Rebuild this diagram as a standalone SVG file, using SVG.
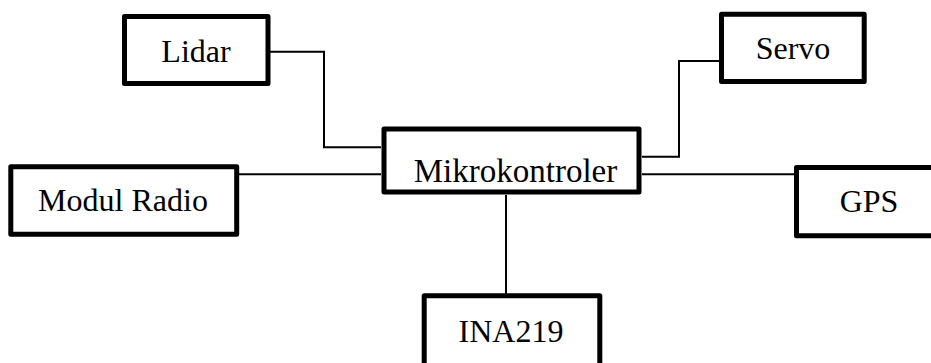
<svg xmlns="http://www.w3.org/2000/svg" width="931" height="363" viewBox="0 0 931 363">
<style>
.box{fill:#fff;stroke:#000;stroke-width:5;stroke-linejoin:round}
.lbl{font-family:'Liberation Serif','Times New Roman',serif;font-size:32px;fill:#000;text-anchor:middle}
.conn{fill:none;stroke:#000;stroke-width:2}
</style>
<rect width="931" height="363" fill="#fff"/>
<g id="connectors">
<polyline class="conn" points="270,51.7 324,51.7 324,147.3 381,147.3"/>
<line class="conn" x1="239" y1="174.3" x2="381" y2="174.3"/>
<polyline class="conn" points="719,61 679,61 679,156.7 642,156.7"/>
<line class="conn" x1="642" y1="174.3" x2="795" y2="174.3"/>
<line class="conn" x1="506" y1="195" x2="506" y2="294"/>
</g>
<g id="lidar">
<rect class="box" x="124.5" y="16.5" width="143.5" height="67"/>
<text class="lbl" x="196" y="62">Lidar</text>
</g>
<g id="servo">
<rect class="box" x="721.5" y="14.2" width="142.7" height="67.3"/>
<text class="lbl" x="793" y="59">Servo</text>
</g>
<g id="mikrokontroler">
<rect class="box" x="384" y="129" width="255" height="63"/>
<text class="lbl" x="515.5" y="181.5" style="font-size:33px">Mikrokontroler</text>
</g>
<g id="modul-radio">
<rect class="box" x="10.8" y="166.7" width="225.9" height="67.5"/>
<text class="lbl" x="123" y="211">Modul Radio</text>
</g>
<g id="gps">
<rect class="box" x="796.5" y="167.5" width="150" height="68.3"/>
<text class="lbl" x="869" y="211.5">GPS</text>
</g>
<g id="ina219">
<rect class="box" x="424.2" y="295.8" width="175.6" height="80"/>
<text class="lbl" x="511" y="341.5">INA219</text>
</g>
</svg>
